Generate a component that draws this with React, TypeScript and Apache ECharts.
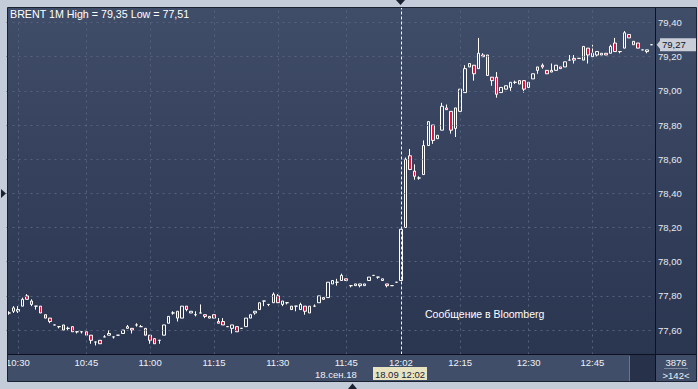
import React, { useEffect, useRef } from "react";
import * as echarts from "echarts";

// one-minute candles: [open, close, low, high]
const ohlc: number[][] = [
  [77.70, 77.70, 77.69, 77.71], [77.71, 77.73, 77.70, 77.74], [77.71, 77.72, 77.70, 77.74], [77.74, 77.78, 77.74, 77.79],
  [77.80, 77.78, 77.78, 77.81], [77.77, 77.75, 77.74, 77.78], [77.74, 77.74, 77.72, 77.74], [77.74, 77.70, 77.70, 77.74],
  [77.69, 77.67, 77.67, 77.69], [77.67, 77.65, 77.64, 77.67], [77.63, 77.63, 77.63, 77.63], [77.62, 77.62, 77.61, 77.62],
  [77.63, 77.60, 77.60, 77.63], [77.61, 77.61, 77.60, 77.62], [77.62, 77.59, 77.59, 77.62], [77.59, 77.59, 77.58, 77.59],
  [77.59, 77.59, 77.58, 77.59], [77.59, 77.57, 77.57, 77.59], [77.57, 77.54, 77.52, 77.57], [77.53, 77.53, 77.51, 77.53],
  [77.54, 77.52, 77.52, 77.54], [77.56, 77.56, 77.56, 77.57], [77.57, 77.58, 77.57, 77.60], [77.56, 77.56, 77.55, 77.56],
  [77.57, 77.57, 77.57, 77.57], [77.58, 77.60, 77.58, 77.60], [77.61, 77.62, 77.61, 77.63], [77.61, 77.60, 77.58, 77.61],
  [77.63, 77.63, 77.62, 77.64], [77.62, 77.62, 77.62, 77.63], [77.61, 77.57, 77.57, 77.61], [77.57, 77.54, 77.52, 77.57],
  [77.55, 77.52, 77.52, 77.55], [77.54, 77.54, 77.52, 77.54], [77.57, 77.63, 77.57, 77.63], [77.64, 77.68, 77.64, 77.68],
  [77.70, 77.70, 77.69, 77.71], [77.71, 77.67, 77.65, 77.71], [77.67, 77.74, 77.67, 77.74], [77.74, 77.72, 77.71, 77.74],
  [77.70, 77.71, 77.70, 77.71], [77.69, 77.69, 77.68, 77.71], [77.70, 77.70, 77.70, 77.75], [77.69, 77.68, 77.67, 77.69],
  [77.68, 77.67, 77.67, 77.68], [77.69, 77.67, 77.67, 77.69], [77.65, 77.64, 77.64, 77.67], [77.65, 77.63, 77.63, 77.67],
  [77.62, 77.62, 77.62, 77.62], [77.61, 77.63, 77.58, 77.63], [77.62, 77.59, 77.59, 77.62], [77.61, 77.61, 77.61, 77.61],
  [77.62, 77.67, 77.62, 77.67], [77.67, 77.69, 77.67, 77.69], [77.70, 77.71, 77.69, 77.71], [77.72, 77.76, 77.72, 77.76],
  [77.77, 77.77, 77.74, 77.77], [77.75, 77.75, 77.74, 77.75], [77.76, 77.81, 77.76, 77.82], [77.80, 77.76, 77.76, 77.81],
  [77.75, 77.77, 77.74, 77.77], [77.76, 77.76, 77.75, 77.76], [77.74, 77.72, 77.72, 77.74], [77.74, 77.74, 77.71, 77.74],
  [77.72, 77.75, 77.72, 77.76], [77.74, 77.71, 77.69, 77.74], [77.70, 77.74, 77.70, 77.74], [77.74, 77.74, 77.74, 77.75],
  [77.76, 77.80, 77.76, 77.80], [77.79, 77.78, 77.78, 77.79], [77.79, 77.88, 77.79, 77.88], [77.87, 77.89, 77.87, 77.89],
  [77.88, 77.88, 77.86, 77.90], [77.89, 77.92, 77.89, 77.93], [77.90, 77.89, 77.89, 77.90], [77.86, 77.86, 77.85, 77.86],
  [77.86, 77.87, 77.86, 77.87], [77.86, 77.87, 77.85, 77.87], [77.86, 77.87, 77.86, 77.87], [77.89, 77.91, 77.89, 77.91],
  [77.92, 77.92, 77.92, 77.92], [77.91, 77.91, 77.90, 77.91], [77.89, 77.90, 77.89, 77.90], [77.87, 77.86, 77.85, 77.87],
  [77.86, 77.86, 77.86, 77.86], [77.88, 77.88, 77.88, 77.88], [77.89, 78.19, 77.89, 78.19], [78.20, 78.60, 78.20, 78.61],
  [78.62, 78.54, 78.54, 78.66], [78.53, 78.50, 78.48, 78.57], [78.49, 78.49, 78.48, 78.50], [78.51, 78.68, 78.51, 78.71],
  [78.68, 78.82, 78.68, 78.82], [78.80, 78.71, 78.69, 78.80], [78.72, 78.74, 78.72, 78.74], [78.77, 78.91, 78.77, 78.93],
  [78.90, 78.89, 78.89, 78.92], [78.88, 78.77, 78.75, 78.88], [78.78, 78.90, 78.73, 78.90], [78.88, 79.01, 78.88, 79.01],
  [78.99, 79.13, 78.99, 79.15], [79.14, 79.16, 79.14, 79.16], [79.15, 79.10, 79.06, 79.15], [79.13, 79.22, 79.13, 79.31],
  [79.21, 79.20, 79.20, 79.22], [79.21, 79.09, 79.09, 79.21], [79.08, 79.06, 79.03, 79.08], [79.08, 78.98, 78.96, 79.11],
  [78.99, 79.02, 78.99, 79.02], [79.01, 79.03, 79.01, 79.03], [79.02, 79.05, 79.00, 79.05], [79.05, 79.05, 79.04, 79.06],
  [79.06, 79.04, 79.04, 79.06], [79.06, 79.01, 78.99, 79.06], [79.02, 79.05, 79.02, 79.05], [79.07, 79.10, 79.07, 79.10],
  [79.12, 79.14, 79.10, 79.14], [79.15, 79.14, 79.13, 79.16], [79.12, 79.10, 79.10, 79.12], [79.12, 79.11, 79.11, 79.16],
  [79.12, 79.15, 79.12, 79.15], [79.14, 79.13, 79.13, 79.14], [79.14, 79.17, 79.14, 79.17], [79.18, 79.18, 79.18, 79.21],
  [79.19, 79.18, 79.16, 79.21], [79.19, 79.19, 79.19, 79.19], [79.18, 79.26, 79.18, 79.26], [79.25, 79.21, 79.16, 79.25],
  [79.20, 79.22, 79.20, 79.27], [79.21, 79.23, 79.20, 79.23], [79.22, 79.21, 79.21, 79.22], [79.22, 79.21, 79.21, 79.22],
  [79.22, 79.26, 79.22, 79.27], [79.28, 79.23, 79.23, 79.31], [79.23, 79.23, 79.22, 79.23], [79.25, 79.34, 79.25, 79.35],
  [79.33, 79.31, 79.31, 79.33], [79.29, 79.27, 79.27, 79.29], [79.28, 79.25, 79.25, 79.28], [79.24, 79.24, 79.24, 79.24],
  [79.23, 79.24, 79.22, 79.24], [79.27, 79.27, 79.27, 79.27],
];

const tickIndex = [2, 17, 31, 45, 59, 74, 86, 99, 114, 128];
const tickText = ["10:30", "10:45", "11:00", "11:15", "11:30", "11:45", "12:02", "12:15", "12:30", "12:45"];
const gridIndex = [2, 17, 31, 45, 59, 74, 99, 114, 128];
const crossIndex = 86;
const yTicks = [77.6, 77.8, 78.0, 78.2, 78.4, 78.6, 78.8, 79.0, 79.2, 79.4];
const yMin = 77.457;
const yMax = 79.485;
const lastPrice = 79.27;
const titleText = "BRENT 1M High = 79,35 Low = 77,51";
const noteText = "Сообщение в Bloomberg";
const dateText = "18.сен.18";
const crossText = "18.09 12:02";
const volumeText = "3876";
const countText = ">142<";

const FONT = '"Liberation Sans", Arial, sans-serif';
const fmt = (v: number) => v.toFixed(2).replace(".", ",");

export default function App() {
  const ref = useRef<HTMLDivElement>(null);
  useEffect(() => {
    if (!ref.current) return;
    const chart = echarts.init(ref.current, undefined, { renderer: "svg" });
    const categories = ohlc.map((_, i) => {
      const k = tickIndex.indexOf(i);
      return k >= 0 ? tickText[k] : "#" + i;
    });
    const frame = "#1a2131";
    const grad = new echarts.graphic.LinearGradient(0, 0, 0, 1, [
      { offset: 0, color: "#404d68" },
      { offset: 1, color: "#2a3550" },
    ]);
    const txt = (size: number, color: string) => ({ fontSize: size, fontFamily: FONT, fill: color });
    chart.setOption({
      animation: false,
      backgroundColor: "#c3ccd8",
      grid: { left: 6.5, right: 44, top: 8, bottom: 34.5, containLabel: false, outerBoundsMode: "none" },
      xAxis: {
        type: "category",
        data: categories,
        boundaryGap: true,
        z: 10,
        axisLine: { show: false },
        axisTick: { show: false },
        splitLine: { show: false },
        axisLabel: {
          interval: (i: number) => tickIndex.includes(i),
          formatter: (v: string) => (v.startsWith("#") ? "" : v),
          color: "#eef1f6",
          fontSize: 9.5,
          fontFamily: FONT,
          margin: 3,
        },
      },
      yAxis: { type: "value", min: yMin, max: yMax, show: false },
      graphic: [
        { type: "rect", z: 0, shape: { x: 8, y: 8, width: 688, height: 347 }, style: { fill: grad } },
        { type: "rect", z: 0, shape: { x: 8, y: 355, width: 688, height: 26 }, style: { fill: "#404e69" } },
        { type: "rect", z: 0, shape: { x: 630, y: 355, width: 25, height: 26 }, style: { fill: "#27324a" } },
        { type: "line", z: 0, shape: { x1: 629.5, y1: 356, x2: 629.5, y2: 381 }, style: { stroke: "#6a768e", lineWidth: 1 } },
        { type: "line", z: 0, shape: { x1: 664, y1: 368.5, x2: 688, y2: 368.5 }, style: { stroke: "#7d899f", lineWidth: 1 } },
        // foreground frame
        { type: "rect", z: 100, shape: { x: 0, y: 355, width: 7.5, height: 27 }, style: { fill: "#c3ccd8" } },
        { type: "rect", z: 100, shape: { x: 7.5, y: 7.5, width: 689, height: 374 }, style: { fill: "none", stroke: frame, lineWidth: 1 } },
        { type: "line", z: 100, shape: { x1: 655.5, y1: 8, x2: 655.5, y2: 381 }, style: { stroke: "#0c1220", lineWidth: 1 } },
        { type: "line", z: 100, shape: { x1: 8, y1: 354.5, x2: 696, y2: 354.5 }, style: { stroke: "#0c1220", lineWidth: 1 } },
        { type: "polygon", z: 100, shape: { points: [[396, 0], [405, 0], [400.5, 5]] }, style: { fill: frame } },
        { type: "polygon", z: 100, shape: { points: [[1, 189], [1, 198], [6, 193.5]] }, style: { fill: frame } },
        { type: "polygon", z: 100, shape: { points: [[348, 389], [357, 389], [352.5, 383.5]] }, style: { fill: frame } },
        // texts
        { type: "text", z: 100, x: 10, y: 14, style: { text: titleText, ...txt(10.7, "#ffffff"), align: "left", verticalAlign: "middle" } },
        { type: "text", z: 100, x: 425, y: 314, style: { text: noteText, ...txt(10.5, "#ffffff"), align: "left", verticalAlign: "middle" } },
        { type: "text", z: 100, x: 315, y: 374, style: { text: dateText, ...txt(9.5, "#eef1f6"), align: "left", verticalAlign: "middle" } },
        { type: "rect", z: 100, shape: { x: 373, y: 367, width: 54, height: 13 }, style: { fill: "#e8e4c1" } },
        { type: "text", z: 101, x: 400, y: 374, style: { text: crossText, ...txt(9.5, "#1a2131"), align: "center", verticalAlign: "middle" } },
        { type: "text", z: 100, x: 676, y: 362, style: { text: volumeText, ...txt(9.5, "#eef1f6"), align: "center", verticalAlign: "middle" } },
        { type: "text", z: 100, x: 676, y: 375, style: { text: countText, ...txt(9.5, "#eef1f6"), align: "center", verticalAlign: "middle" } },
      ],
      series: [
        {
          type: "line",
          data: [],
          z: 1,
          silent: true,
          markLine: {
            silent: true,
            symbol: ["none", "none"],
            lineStyle: { color: "#56637d", type: [2, 4], width: 1 },
            label: {
              show: true,
              position: "end",
              distance: 4,
              color: "#e6eaf1",
              fontSize: 9.5,
              fontFamily: FONT,
              formatter: (p: any) => fmt(p.value),
            },
            data: yTicks.map((v) => ({ yAxis: v })),
          },
        },
        {
          type: "line",
          data: [],
          z: 1,
          silent: true,
          markLine: {
            silent: true,
            symbol: ["none", "none"],
            lineStyle: { color: "#56637d", type: [2, 4], width: 1 },
            label: { show: false },
            data: gridIndex.map((i) => ({ xAxis: i })),
          },
        },
        {
          type: "candlestick",
          z: 3,
          barWidth: 3,
          data: ohlc,
          silent: true,
          itemStyle: {
            color: "transparent",
            color0: "#e2143c",
            borderColor: "#ffffff",
            borderColor0: "#ffffff",
            borderColorDoji: "#ffffff",
            borderWidth: 1,
          },
        },
        {
          type: "line",
          data: [],
          z: 5,
          silent: true,
          markLine: {
            silent: true,
            symbol: ["none", "none"],
            data: [
              {
                xAxis: crossIndex,
                lineStyle: { color: "#f4f4f4", type: [3, 2], width: 1 },
                label: { show: false },
              },
            ],
          },
        },
        {
          type: "line",
          data: [],
          z: 6,
          silent: true,
          markLine: {
            silent: true,
            symbol: ["none", "none"],
            lineStyle: { color: "rgba(0,0,0,0)", width: 1 },
            label: {
              show: true,
              position: "end",
              distance: 6,
              formatter: () => fmt(lastPrice),
              backgroundColor: "#c9ced8",
              color: "#0e1526",
              fontSize: 9.5,
              fontFamily: FONT,
              padding: [2, 13, 1, 2],
            },
            data: [{ yAxis: lastPrice }],
          },
          markPoint: {
            silent: true,
            symbol: "triangle",
            symbolSize: [10, 4],
            symbolRotate: 90,
            symbolOffset: [7, 0],
            itemStyle: { color: "#c9ced8" },
            label: { show: false },
            data: [{ coord: [ohlc.length - 1, lastPrice] }],
          },
        },
      ],
    });
    return () => chart.dispose();
  }, []);
  return (
    <div
      ref={ref}
      style={{ position: "fixed", left: 0, top: 0, width: 698, height: 389 }}
    />
  );
}
